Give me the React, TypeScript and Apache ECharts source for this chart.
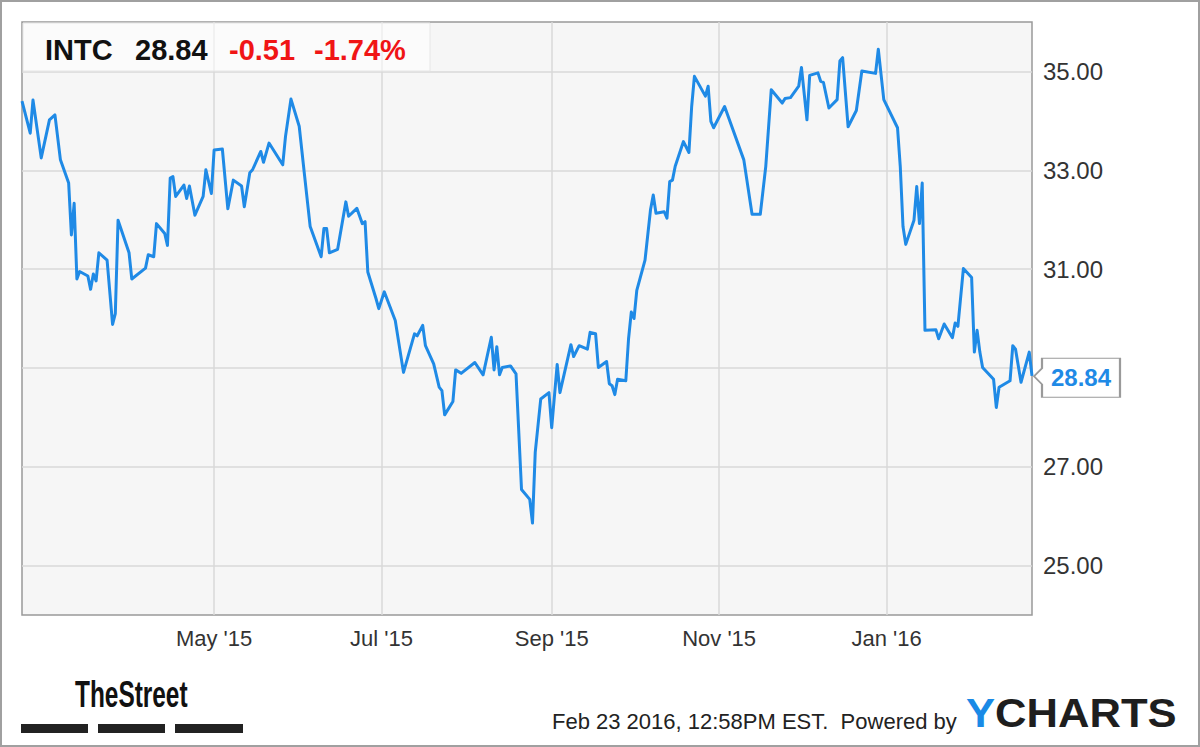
import React, { useEffect, useRef } from "react";
import * as echarts from "echarts";

const ticker = "INTC";
const lastPrice = 28.84;
const change = -0.51;
const changePct = -1.74;
const footerText = "Feb 23 2016, 12:58PM EST.  Powered by";

const dates = [
  "2015-02-20", "2015-02-23", "2015-02-24", "2015-02-27", "2015-03-02", "2015-03-04", "2015-03-06", "2015-03-09",
  "2015-03-10", "2015-03-11", "2015-03-12", "2015-03-13", "2015-03-16", "2015-03-17", "2015-03-18", "2015-03-19",
  "2015-03-20", "2015-03-23", "2015-03-25", "2015-03-26", "2015-03-27", "2015-03-31", "2015-04-01", "2015-04-06",
  "2015-04-07", "2015-04-09", "2015-04-10", "2015-04-13", "2015-04-14", "2015-04-15", "2015-04-16", "2015-04-17",
  "2015-04-20", "2015-04-21", "2015-04-22", "2015-04-24", "2015-04-27", "2015-04-28", "2015-04-30", "2015-05-01",
  "2015-05-04", "2015-05-06", "2015-05-08", "2015-05-11", "2015-05-12", "2015-05-14", "2015-05-15", "2015-05-18",
  "2015-05-19", "2015-05-21", "2015-05-26", "2015-05-27", "2015-05-29", "2015-06-01", "2015-06-03", "2015-06-05",
  "2015-06-09", "2015-06-10", "2015-06-11", "2015-06-12", "2015-06-15", "2015-06-18", "2015-06-19", "2015-06-22",
  "2015-06-24", "2015-06-25", "2015-06-26", "2015-06-29", "2015-06-30", "2015-07-02", "2015-07-06", "2015-07-09",
  "2015-07-13", "2015-07-14", "2015-07-16", "2015-07-17", "2015-07-20", "2015-07-22", "2015-07-23", "2015-07-24",
  "2015-07-27", "2015-07-28", "2015-07-30", "2015-08-04", "2015-08-07", "2015-08-10", "2015-08-11", "2015-08-12",
  "2015-08-13", "2015-08-14", "2015-08-17", "2015-08-19", "2015-08-21", "2015-08-24", "2015-08-25", "2015-08-26",
  "2015-08-28", "2015-08-31", "2015-09-01", "2015-09-03", "2015-09-04", "2015-09-08", "2015-09-09", "2015-09-11",
  "2015-09-14", "2015-09-15", "2015-09-17", "2015-09-18", "2015-09-21", "2015-09-22", "2015-09-23", "2015-09-24",
  "2015-09-25", "2015-09-28", "2015-09-29", "2015-09-30", "2015-10-01", "2015-10-02", "2015-10-05", "2015-10-07",
  "2015-10-08", "2015-10-09", "2015-10-12", "2015-10-13", "2015-10-14", "2015-10-15", "2015-10-16", "2015-10-19",
  "2015-10-21", "2015-10-22", "2015-10-23", "2015-10-27", "2015-10-28", "2015-10-29", "2015-10-30", "2015-11-03",
  "2015-11-10", "2015-11-13", "2015-11-16", "2015-11-18", "2015-11-20", "2015-11-24", "2015-11-25", "2015-11-27",
  "2015-11-30", "2015-12-01", "2015-12-03", "2015-12-04", "2015-12-07", "2015-12-08", "2015-12-09", "2015-12-11",
  "2015-12-14", "2015-12-15", "2015-12-16", "2015-12-18", "2015-12-21", "2015-12-23", "2015-12-28", "2015-12-29",
  "2015-12-31", "2016-01-05", "2016-01-06", "2016-01-07", "2016-01-08", "2016-01-11", "2016-01-12", "2016-01-13",
  "2016-01-14", "2016-01-15", "2016-01-19", "2016-01-20", "2016-01-22", "2016-01-25", "2016-01-26", "2016-01-27",
  "2016-01-29", "2016-02-01", "2016-02-02", "2016-02-03", "2016-02-04", "2016-02-05", "2016-02-09", "2016-02-10",
  "2016-02-11", "2016-02-15", "2016-02-16", "2016-02-17", "2016-02-19", "2016-02-22", "2016-02-23",
];

const prices = [
  34.40, 33.75, 34.42, 33.25, 34.02, 34.12, 33.21, 32.74,
  31.69, 32.33, 30.80, 30.95, 30.86, 30.59, 30.90, 30.76,
  31.33, 31.18, 29.88, 30.10, 31.99, 31.33, 30.80, 31.02,
  31.29, 31.25, 31.92, 31.72, 31.48, 32.84, 32.87, 32.47,
  32.70, 32.43, 32.68, 32.09, 32.47, 33.01, 32.53, 33.41,
  33.43, 32.22, 32.80, 32.68, 32.26, 32.95, 33.01, 33.38,
  33.16, 33.55, 33.11, 33.68, 34.44, 33.89, 32.87, 31.86,
  31.25, 31.82, 31.82, 31.33, 31.40, 32.36, 32.07, 32.23,
  31.92, 31.96, 30.94, 30.40, 30.20, 30.54, 29.96, 28.91,
  29.69, 29.65, 29.86, 29.45, 29.08, 28.61, 28.54, 28.05,
  28.32, 28.96, 28.89, 29.11, 28.86, 29.62, 28.96, 29.43,
  28.86, 29.01, 29.04, 28.88, 26.54, 26.34, 25.86, 27.29,
  28.37, 28.50, 27.79, 29.07, 28.50, 29.47, 29.23, 29.45,
  29.38, 29.72, 29.69, 29.01, 29.13, 28.68, 28.64, 28.46,
  28.77, 28.74, 29.59, 30.13, 30.00, 30.57, 31.18, 32.20,
  32.50, 32.13, 32.16, 32.03, 32.77, 32.80, 33.08, 33.58,
  33.36, 34.29, 34.90, 34.50, 34.70, 33.99, 33.86, 34.29,
  33.21, 32.11, 32.11, 33.08, 34.63, 34.36, 34.45, 34.47,
  34.70, 35.08, 34.02, 34.92, 34.97, 34.80, 34.78, 34.26,
  34.43, 35.21, 35.28, 33.88, 34.21, 35.01, 34.96, 35.45,
  34.43, 33.86, 33.08, 31.86, 31.50, 31.99, 32.67, 31.92,
  32.74, 29.76, 29.77, 29.59, 29.89, 29.61, 29.91, 29.84,
  31.01, 30.83, 29.32, 29.76, 29.32, 29.01, 28.77, 28.20,
  28.61, 28.74, 29.45, 29.38, 28.71, 29.32, 28.84,
];

const xTickDates = ["2015-05-01", "2015-07-01", "2015-09-01", "2015-11-01", "2016-01-01"];
const xTickLabels = ["May '15", "Jul '15", "Sep '15", "Nov '15", "Jan '16"];
const yGridValues = [25, 27, 29, 31, 33, 35];
const yLabelValues = [25, 27, 31, 33, 35];
const xMin = "2015-02-20";
const xMax = "2016-02-23";
const yMin = 24;
const yMax = 36;

const FONT = "'Liberation Sans', Arial, Helvetica, sans-serif";
const LINE_BLUE = "#1f8ae6";

export default function App() {
  const ref = useRef<HTMLDivElement>(null);

  useEffect(() => {
    if (!ref.current) return;
    const chart = echarts.init(ref.current, null, { renderer: "svg" });
    const seriesData = dates.map((d, i) => [d, prices[i]]);

    const markLineData: any[] = [
      ...xTickDates.map((d, i) => ({
        xAxis: d,
        name: xTickLabels[i],
        label: { show: true },
      })),
      ...yGridValues.map((v) => ({ yAxis: v, label: { show: false } })),
    ];

    const fmt = (v: number) => (v < 0 ? "-" : "+") + Math.abs(v).toFixed(2);

    chart.setOption({
      animation: false,
      grid: {
        left: 22,
        top: 22,
        right: 168,
        bottom: 132,
        show: true,
        backgroundColor: "#f6f6f6",
        borderColor: "#999999",
        borderWidth: 1.5,
      },
      xAxis: {
        type: "time",
        min: xMin,
        max: xMax,
        axisLine: { show: false },
        axisTick: { show: false },
        axisLabel: { show: false },
        splitLine: { show: false },
      },
      yAxis: {
        type: "value",
        position: "right",
        min: yMin,
        max: yMax,
        interval: 1,
        axisLine: { show: false },
        axisTick: { show: false },
        splitLine: { show: false },
        axisLabel: {
          margin: 11,
          color: "#333",
          fontSize: 24,
          fontFamily: FONT,
          formatter: (v: number) => (yLabelValues.indexOf(v) >= 0 ? v.toFixed(2) : ""),
        },
      },
      series: [
        {
          type: "line",
          data: seriesData,
          showSymbol: false,
          symbol: "none",
          clip: false,
          z: 3,
          lineStyle: { color: LINE_BLUE, width: 3, join: "round" },
          markLine: {
            silent: true,
            z: 1,
            symbol: ["none", "none"],
            animation: false,
            lineStyle: { color: "#d9d9d9", width: 1.5, type: "solid" },
            label: {
              show: true,
              position: "start",
              distance: 12,
              color: "#333",
              fontSize: 22,
              fontFamily: FONT,
              formatter: (p: any) => p.name,
            },
            emphasis: { disabled: true },
            data: markLineData,
          },
          markPoint: {
            silent: true,
            animation: false,
            symbol: "path://M8,0 L86,0 L86,39 L8,39 L8,26 L0,18 L8,10 Z",
            symbolSize: [86, 39],
            symbolOffset: [45, 2],
            itemStyle: { color: "#ffffff", borderColor: "#9a9a9a", borderWidth: 1.5 },
            label: {
              show: true,
              position: "inside",
              offset: [4, 0],
              color: LINE_BLUE,
              fontSize: 24,
              fontWeight: "bold",
              fontFamily: FONT,
              formatter: () => lastPrice.toFixed(2),
            },
            data: [{ coord: [dates[dates.length - 1], prices[prices.length - 1]] }],
          },
        },
      ],
      graphic: [
        {
          type: "rect",
          silent: true,
          shape: { x: 1, y: 1, width: 1198, height: 745 },
          style: { fill: "none", stroke: "#a0a0a0", lineWidth: 2 },
          z: 10,
        },
        {
          type: "rect",
          silent: true,
          shape: { x: 23, y: 23, width: 407, height: 48 },
          style: { fill: "rgba(255,255,255,0.55)", stroke: "#e6e6e6", lineWidth: 1 },
          z: 5,
        },
        {
          type: "text",
          x: 45,
          y: 50,
          style: { text: ticker, fill: "#111", font: `bold 29px ${FONT}`, verticalAlign: "middle" },
          z: 10,
        },
        {
          type: "text",
          x: 135,
          y: 50,
          style: { text: lastPrice.toFixed(2), fill: "#111", font: `bold 29px ${FONT}`, verticalAlign: "middle" },
          z: 10,
        },
        {
          type: "text",
          x: 229,
          y: 50,
          style: { text: fmt(change), fill: "#f01515", font: `bold 29px ${FONT}`, verticalAlign: "middle" },
          z: 10,
        },
        {
          type: "text",
          x: 314,
          y: 50,
          style: { text: fmt(changePct) + "%", fill: "#f01515", font: `bold 29px ${FONT}`, verticalAlign: "middle" },
          z: 10,
        },
        {
          type: "text",
          x: 75,
          y: 713,
          scaleX: 0.66,
          style: { text: "TheStreet", fill: "#111", font: `bold 37px ${FONT}`, verticalAlign: "bottom" },
          z: 10,
        },
        { type: "rect", shape: { x: 21, y: 724, width: 67, height: 9 }, style: { fill: "#222" }, z: 10 },
        { type: "rect", shape: { x: 98, y: 724, width: 67, height: 9 }, style: { fill: "#222" }, z: 10 },
        { type: "rect", shape: { x: 175, y: 724, width: 68, height: 9 }, style: { fill: "#222" }, z: 10 },
        {
          type: "text",
          x: 552,
          y: 721,
          style: { text: footerText, fill: "#222", font: `22px ${FONT}`, verticalAlign: "middle" },
          z: 10,
        },
        {
          type: "text",
          x: 966,
          y: 713,
          scaleX: 1.09,
          style: {
            text: "{y|Y}{c|CHARTS}",
            verticalAlign: "middle",
            rich: {
              y: { fill: "#1a8ae6", font: `bold 40px ${FONT}` },
              c: { fill: "#1e1e1e", font: `bold 40px ${FONT}` },
            },
          },
          z: 10,
        },
      ],
    });

    return () => chart.dispose();
  }, []);

  return (
    <div
      ref={ref}
      style={{ position: "absolute", left: 0, top: 0, width: 1200, height: 747, background: "#fff" }}
    />
  );
}
